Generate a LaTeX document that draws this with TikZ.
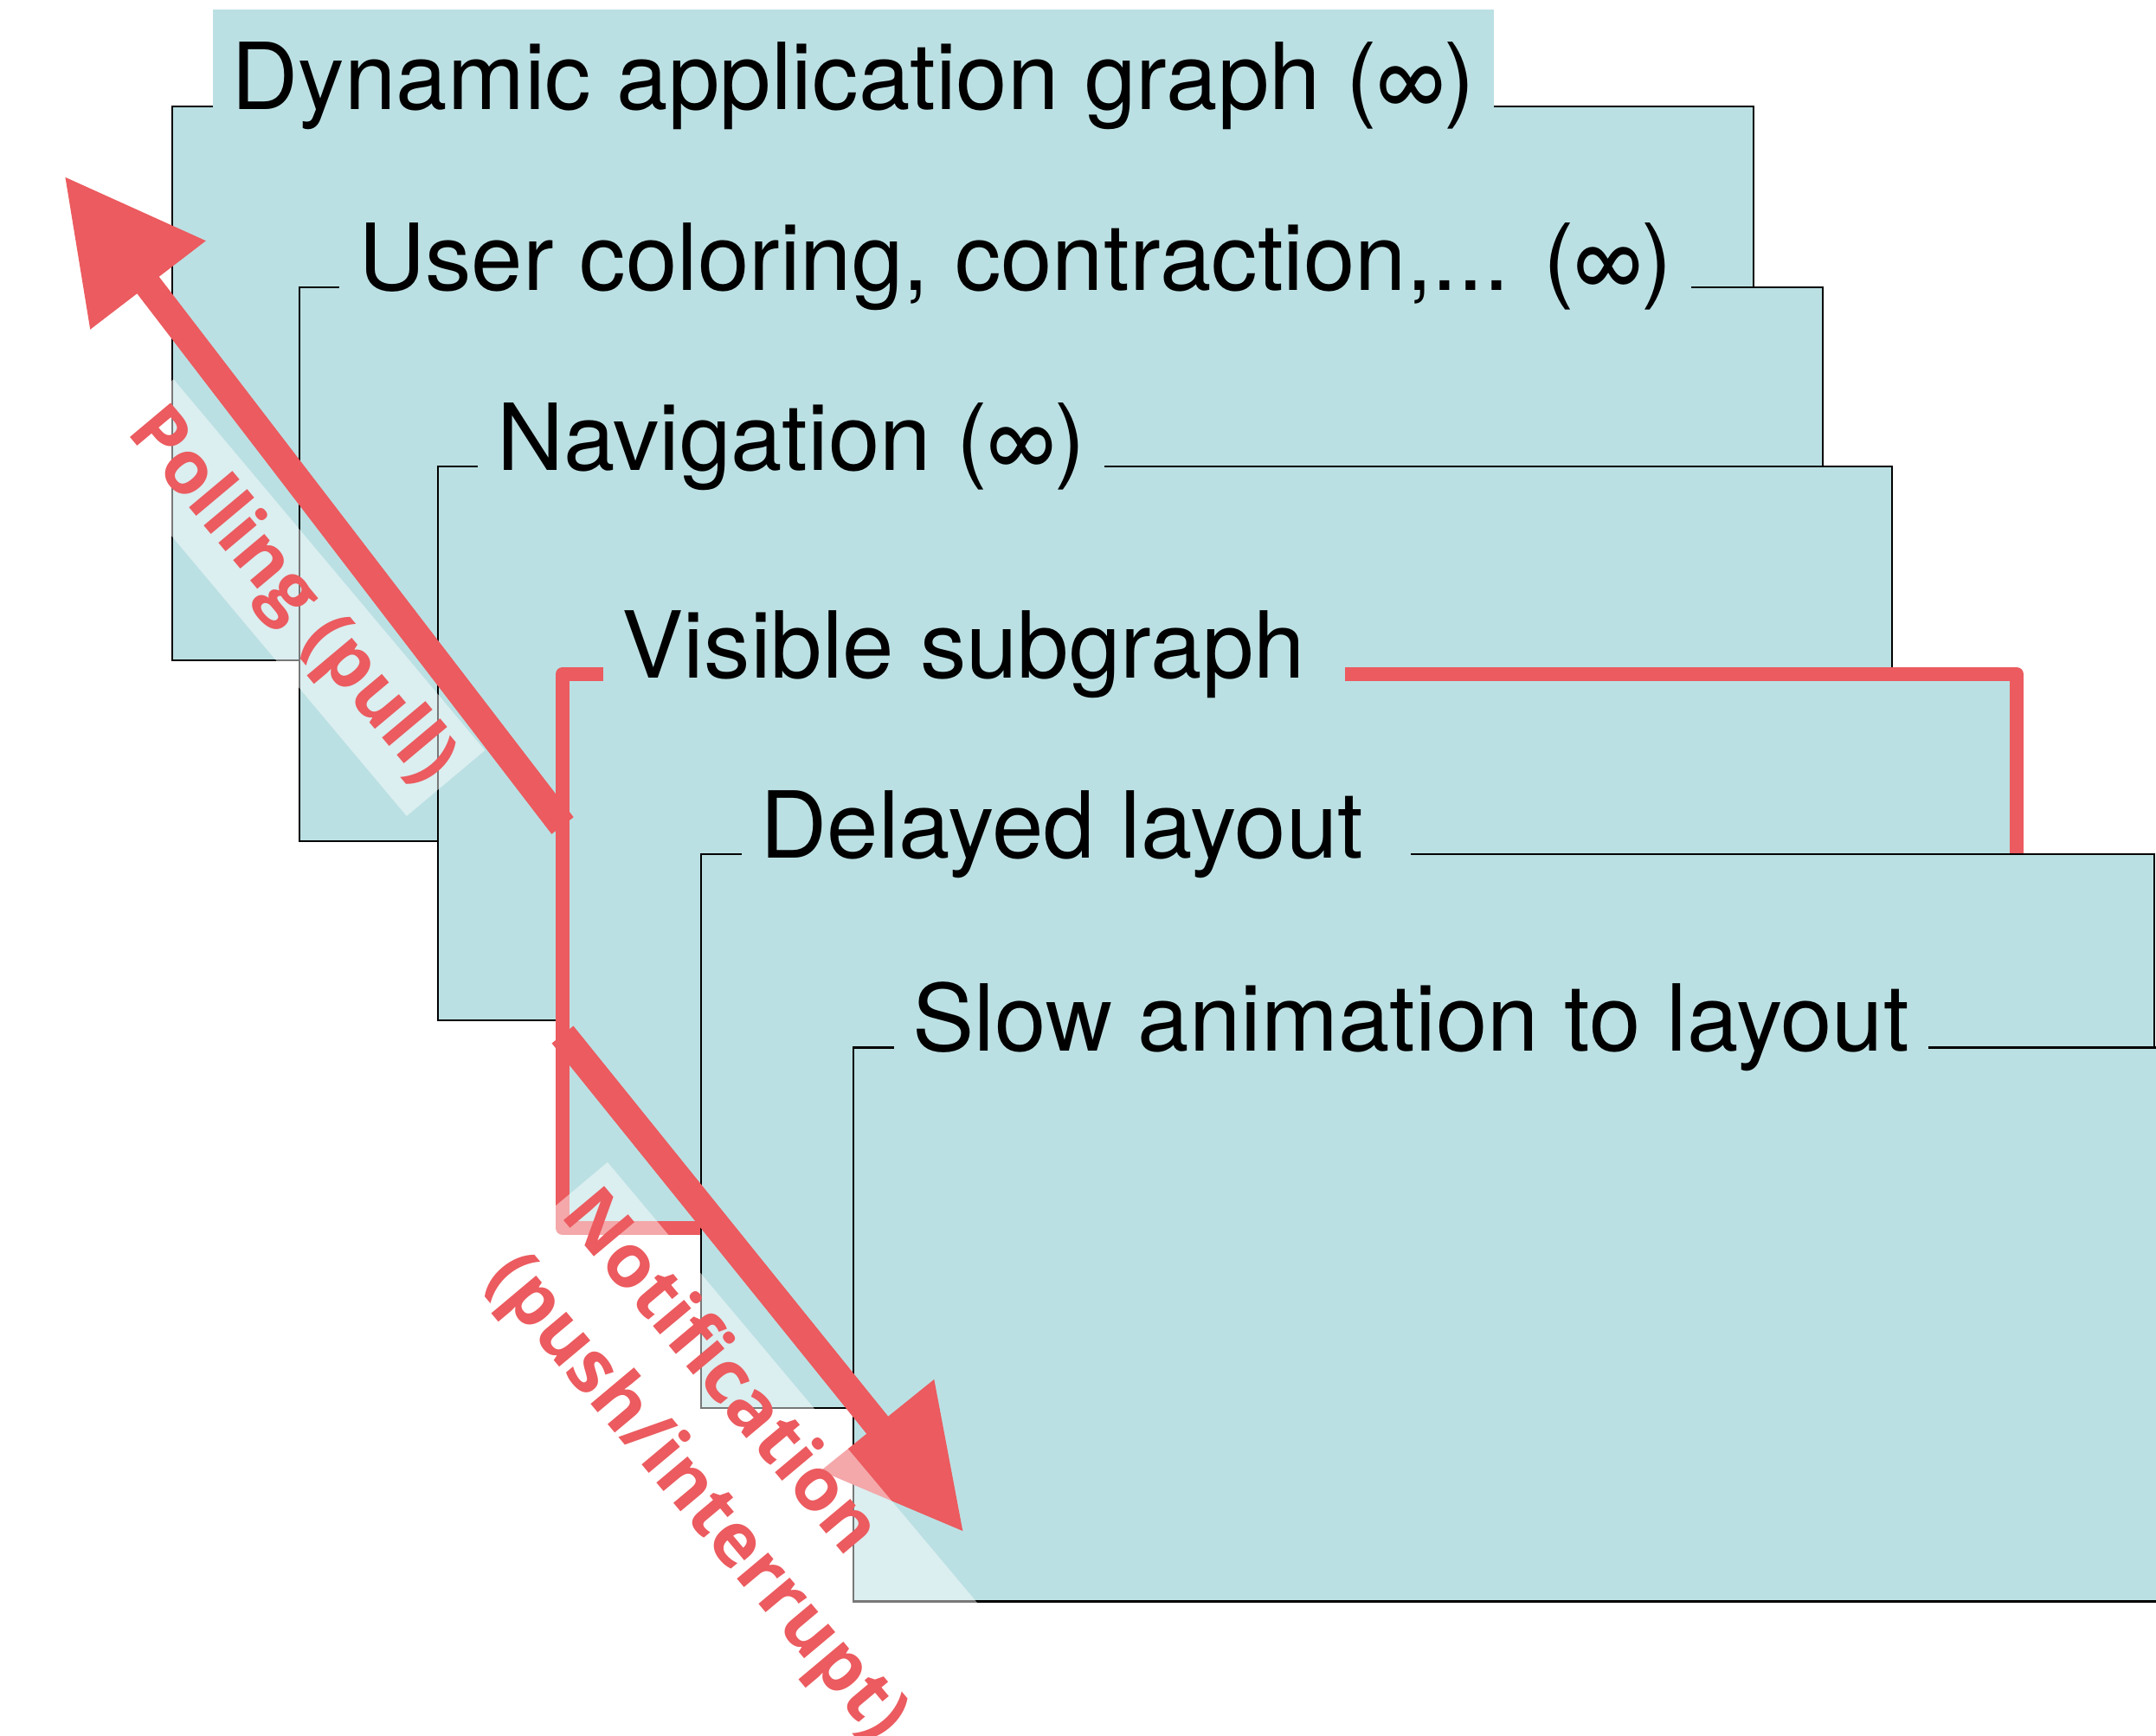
\documentclass[tikz,border=0pt]{standalone}
\usepackage{fontspec}
\setmainfont{TeX Gyre Heros}
\newfontfamily\labelfont{Open Sans}
\usetikzlibrary{arrows.meta}

\definecolor{layerfill}{RGB}{187,224,227}
\definecolor{alertred}{RGB}{235,91,95}

\begin{document}
\begin{tikzpicture}[
    x=1cm, y=1cm,
    layerbox/.style={draw=black, line width=0.6pt, fill=layerfill, anchor=north west,
                     inner sep=0pt, outer sep=0pt, minimum height=6.4cm},
    layertitle/.style={fill=layerfill, anchor=base west, inner xsep=0.22cm, inner ysep=0.16cm,
                       text height=1.0cm, text depth=0.3cm,
                       xshift=0.46cm, yshift=-0.04cm,
                       font=\fontsize{30.4}{36}\selectfont},
    flowarrow/.style={draw=alertred, line width=0.32cm,
                      -{Triangle[length=1.59cm, width=1.59cm]}},
    flowlabel/.style={text=alertred, fill=white, fill opacity=0.47, text opacity=1,
                      rotate=-50, inner xsep=0.12cm, inner ysep=0.16cm, align=left,
                      font=\labelfont\bfseries\fontsize{24.5}{32}\selectfont}
  ]
    \useasboundingbox (0,0) rectangle (24.91,-20.05);

    % stacked layers, back to front
    \node[layerbox, minimum width=18.27cm] (graph)    at (1.99,-1.227)  {};
    \node[layertitle] (graphtitle) at (graph.north west) {Dynamic application graph (∞)};

    \node[layerbox, minimum width=17.6cm]  (coloring) at (3.457,-3.316) {};
    \node[layertitle] (coloringtitle) at (coloring.north west) {User coloring, contraction,... (∞)};

    \node[layerbox, minimum width=16.8cm]  (navig)    at (5.057,-5.39)  {};
    \node[layertitle] (navigtitle) at (navig.north west) {Navigation (∞)};

    \node[layerbox, minimum width=16.8cm, draw=alertred, line width=0.16cm,
          line join=round]                 (visible)  at (6.50,-7.79)   {};
    \node[layertitle] (visibletitle) at (visible.north west) {Visible subgraph\rule{0.24cm}{0pt}};

    \node[layerbox, minimum width=16.79cm] (delayed)  at (8.10,-9.87)   {};
    \node[layertitle] (delayedtitle) at (delayed.north west) {Delayed layout\rule{0.33cm}{0pt}};

    \node[layerbox, minimum width=16.8cm]  (slowanim) at (9.86,-12.105) {};
    \node[layertitle] (slowanimtitle) at (slowanim.north west) {Slow animation to layout};

    % pull and push
    \coordinate (polltip)  at (0.743,-2.033);
    \coordinate (notiftip) at (11.135,-17.705);
    \draw[flowarrow] ([yshift=1.45cm]visible.west)   -- (polltip);
    \draw[flowarrow] ([yshift=-0.965cm]visible.west) -- (notiftip);

    \node[flowlabel, anchor=east]       (polllabel)  at (5.155,-9.055) {Polling (pull)};
    \node[flowlabel, anchor=north west] (notiflabel) at (7.02,-13.42)  {Notification\\(push/interrupt)};
  \end{tikzpicture}
\end{document}
